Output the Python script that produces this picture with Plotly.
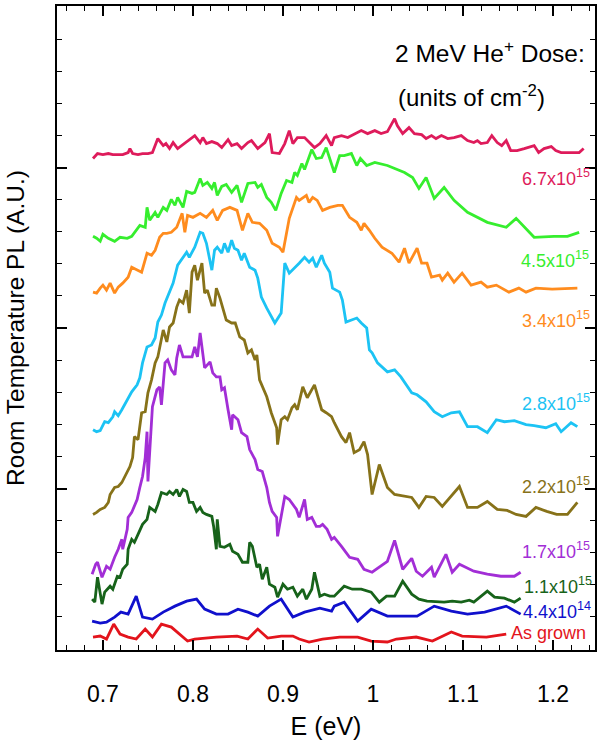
import plotly.graph_objects as go

# ---- data (E in eV, PL intensity in arbitrary units, curves offset vertically) ----
e_67 = [0.689,0.694,0.700,0.706,0.711,0.717,0.722,0.728,0.730,0.733,0.739,0.744,0.750,0.755,0.761,0.767,0.770,0.774,0.778,0.783,0.786,0.791,0.802,0.808,0.811,0.815,0.821,0.827,0.832,0.839,0.843,0.849,0.854,0.861,0.865,0.872,0.880,0.885,0.888,0.896,0.902,0.907,0.911,0.916,0.924,0.935,0.941,0.948,0.954,0.957,0.965,0.972,0.979,0.987,0.994,1.002,1.009,1.016,1.024,1.027,1.033,1.040,1.046,1.054,1.059,1.065,1.070,1.076,1.083,1.090,1.098,1.105,1.112,1.116,1.120,1.127,1.132,1.138,1.143,1.148,1.153,1.160,1.168,1.171,1.179,1.184,1.190,1.198,1.203,1.209,1.215,1.223,1.229,1.234]
i_67 = [492,497,496,497,496,496,496,498,502,497,496,497,497,498,512,505,507,502,508,502,504,508,515,508,513,507,509,507,503,511,505,507,502,508,510,502,508,517,498,497,507,520,507,513,513,503,507,515,505,513,515,513,516,520,517,520,517,519,532,525,517,523,517,516,512,515,512,515,512,513,515,510,508,510,507,508,515,508,505,510,500,500,502,503,505,498,502,504,500,498,498,498,498,502]

e_45 = [0.689,0.693,0.697,0.700,0.706,0.710,0.713,0.719,0.727,0.732,0.737,0.741,0.747,0.749,0.752,0.758,0.761,0.767,0.771,0.776,0.780,0.783,0.789,0.793,0.799,0.802,0.808,0.811,0.816,0.821,0.824,0.827,0.832,0.837,0.843,0.849,0.854,0.861,0.869,0.872,0.876,0.882,0.887,0.892,0.898,0.904,0.910,0.913,0.916,0.921,0.924,0.932,0.937,0.943,0.948,0.954,0.957,0.963,0.968,0.976,0.982,0.986,0.993,1.002,1.016,1.035,1.044,1.051,1.059,1.068,1.079,1.090,1.105,1.127,1.148,1.159,1.179,1.201,1.216,1.229]
i_45 = [414,412,409,416,412,410,409,413,412,414,420,425,423,443,430,438,433,443,440,451,445,453,443,459,457,458,472,465,468,462,468,455,464,466,458,465,448,467,468,463,466,453,448,440,457,470,468,478,475,487,481,501,492,493,503,485,478,495,495,497,485,492,485,488,485,478,473,462,473,452,463,450,438,428,423,432,413,414,414,418]

e_34 = [0.689,0.693,0.697,0.700,0.704,0.708,0.713,0.717,0.722,0.728,0.732,0.738,0.743,0.749,0.754,0.758,0.763,0.767,0.771,0.776,0.782,0.788,0.791,0.794,0.800,0.808,0.815,0.822,0.827,0.833,0.841,0.849,0.855,0.861,0.866,0.874,0.882,0.888,0.896,0.900,0.907,0.915,0.918,0.926,0.929,0.933,0.938,0.944,0.952,0.961,0.966,0.974,0.982,0.987,0.990,0.996,1.002,1.010,1.021,1.029,1.035,1.040,1.049,1.054,1.060,1.065,1.074,1.077,1.083,1.090,1.099,1.109,1.120,1.127,1.137,1.151,1.162,1.170,1.181,1.199,1.227]
i_34 = [358,357,362,365,360,367,357,363,367,373,383,380,378,397,395,400,413,417,417,418,423,437,418,435,433,437,433,440,430,440,443,440,420,437,428,427,420,407,403,398,432,453,450,455,448,453,450,440,443,445,445,433,428,420,427,420,412,403,397,388,402,387,402,387,387,373,375,370,377,368,377,365,368,363,365,358,362,358,362,361,362]

e_28 = [0.689,0.693,0.697,0.702,0.706,0.711,0.713,0.717,0.721,0.724,0.728,0.732,0.738,0.741,0.744,0.749,0.754,0.758,0.761,0.765,0.769,0.774,0.778,0.783,0.789,0.793,0.796,0.802,0.808,0.811,0.815,0.821,0.824,0.827,0.832,0.835,0.839,0.843,0.846,0.850,0.854,0.857,0.863,0.869,0.872,0.876,0.882,0.891,0.898,0.902,0.907,0.913,0.918,0.924,0.929,0.933,0.937,0.943,0.946,0.952,0.955,0.963,0.966,0.970,0.976,0.982,0.987,0.993,0.996,0.999,1.005,1.016,1.024,1.031,1.043,1.049,1.059,1.068,1.077,1.087,1.096,1.105,1.116,1.127,1.137,1.146,1.157,1.170,1.179,1.192,1.203,1.209,1.220,1.227]
i_28 = [220,218,219,228,227,233,238,234,240,245,252,258,265,272,287,303,305,312,328,335,347,358,367,385,393,398,393,403,418,417,407,380,400,403,397,407,398,410,402,400,390,397,383,380,372,353,342,327,337,387,377,382,387,393,388,392,383,395,387,378,362,358,350,328,330,332,327,322,300,297,287,278,280,273,257,255,248,238,233,237,238,223,223,217,230,228,229,225,224,222,226,218,227,223]

e_22 = [0.689,0.693,0.697,0.702,0.706,0.708,0.713,0.717,0.721,0.727,0.730,0.733,0.735,0.739,0.743,0.747,0.750,0.754,0.758,0.761,0.767,0.771,0.774,0.778,0.782,0.785,0.789,0.793,0.796,0.799,0.802,0.805,0.810,0.813,0.816,0.821,0.824,0.826,0.830,0.837,0.843,0.847,0.852,0.857,0.861,0.865,0.869,0.871,0.874,0.882,0.887,0.893,0.894,0.898,0.902,0.905,0.910,0.913,0.916,0.922,0.927,0.935,0.943,0.948,0.954,0.957,0.965,0.970,0.974,0.979,0.985,0.990,0.994,0.999,1.007,1.016,1.024,1.043,1.051,1.059,1.068,1.077,1.096,1.105,1.116,1.127,1.138,1.149,1.159,1.170,1.181,1.193,1.204,1.216,1.227]
i_22 = [135,137,140,142,147,155,162,163,167,178,183,192,213,210,237,238,257,270,287,293,320,308,323,327,343,350,347,360,337,378,385,370,387,357,360,345,345,362,352,330,327,327,313,310,297,300,290,295,270,253,237,222,205,230,233,230,242,245,240,263,252,265,240,237,233,227,213,207,217,197,200,208,195,155,185,162,155,152,142,153,152,143,163,142,142,148,140,139,135,133,142,138,135,135,147]

e_17 = [0.688,0.692,0.694,0.699,0.704,0.708,0.713,0.717,0.721,0.722,0.727,0.728,0.732,0.738,0.741,0.744,0.747,0.749,0.750,0.752,0.755,0.760,0.763,0.765,0.769,0.772,0.776,0.780,0.782,0.785,0.789,0.793,0.799,0.802,0.805,0.808,0.811,0.813,0.819,0.822,0.826,0.830,0.832,0.835,0.839,0.843,0.844,0.850,0.854,0.860,0.863,0.869,0.872,0.877,0.882,0.885,0.888,0.893,0.894,0.898,0.902,0.907,0.915,0.918,0.924,0.927,0.932,0.937,0.941,0.944,0.949,0.954,0.957,0.965,0.974,0.983,0.990,0.999,1.007,1.016,1.024,1.033,1.043,1.048,1.055,1.065,1.068,1.081,1.088,1.096,1.112,1.127,1.142,1.157,1.164]
i_17 = [75,85,87,72,83,80,92,100,110,100,120,132,137,150,162,173,192,218,168,197,243,260,263,245,287,290,280,275,292,305,293,293,293,303,293,317,298,282,288,277,273,273,260,262,240,220,235,230,217,213,200,190,180,178,162,147,138,132,113,135,153,150,140,132,150,130,132,123,123,125,120,110,112,103,92,90,80,77,82,88,109,80,91,78,73,82,72,95,77,85,78,75,73,73,77]

e_11 = [0.688,0.691,0.694,0.699,0.702,0.708,0.711,0.716,0.719,0.722,0.727,0.728,0.732,0.735,0.739,0.744,0.749,0.752,0.758,0.761,0.765,0.771,0.774,0.778,0.782,0.785,0.789,0.793,0.796,0.800,0.804,0.808,0.811,0.815,0.821,0.823,0.826,0.827,0.830,0.835,0.841,0.844,0.850,0.855,0.861,0.863,0.866,0.871,0.874,0.877,0.882,0.885,0.891,0.894,0.900,0.905,0.911,0.916,0.922,0.926,0.932,0.935,0.941,0.946,0.952,0.957,0.968,0.977,0.987,0.998,1.007,1.015,1.024,1.033,1.043,1.051,1.060,1.079,1.088,1.098,1.107,1.112,1.127,1.135,1.146,1.157,1.164]
i_11 = [50,47,72,45,57,63,60,73,72,80,85,100,110,107,115,125,130,142,138,145,157,155,158,155,160,153,160,158,147,147,138,142,137,135,133,123,100,130,103,102,105,98,95,87,87,107,103,82,85,70,82,65,62,52,65,60,62,53,60,50,60,77,53,55,53,53,63,60,60,57,47,53,53,68,55,50,48,47,48,47,49,47,58,52,51,47,51]

e_44 = [0.688,0.697,0.704,0.713,0.720,0.728,0.737,0.744,0.755,0.767,0.780,0.793,0.804,0.813,0.826,0.839,0.850,0.861,0.872,0.885,0.898,0.911,0.924,0.941,0.954,0.957,0.968,0.983,0.998,1.016,1.049,1.068,1.087,1.105,1.124,1.148,1.164]
i_44 = [28,26,27,32,37,35,53,32,30,37,43,48,50,40,35,35,40,37,33,43,50,32,37,41,38,43,47,28,40,33,33,43,38,35,37,43,35]

e_ag = [0.689,0.697,0.704,0.712,0.719,0.728,0.737,0.747,0.755,0.765,0.776,0.788,0.794,0.802,0.826,0.849,0.861,0.872,0.883,0.898,0.911,0.918,0.929,0.944,0.963,0.983,0.998,1.016,1.026,1.048,1.066,1.087,1.099,1.126,1.148]
i_ag = [12,13,10,25,15,12,10,20,12,25,22,13,8,10,12,13,10,20,11,13,13,10,7,10,12,12,8,7,10,12,8,17,13,12,15]

series_names = ["6.7x10<sup>15</sup>", "4.5x10<sup>15</sup>", "3.4x10<sup>15</sup>", "2.8x10<sup>15</sup>",
                "2.2x10<sup>15</sup>", "1.7x10<sup>15</sup>", "1.1x10<sup>15</sup>", "4.4x10<sup>14</sup>", "As grown"]
series_x = [e_67, e_45, e_34, e_28, e_22, e_17, e_11, e_44, e_ag]
series_y = [i_67, i_45, i_34, i_28, i_22, i_17, i_11, i_44, i_ag]
colors = ["#DE1B5B", "#36EE2E", "#FF8C1E", "#1CC3F4", "#877219", "#A22ED6", "#17631A", "#1010CC", "#E3141C"]
label_y = [473, 391, 331, 247, 164, 99, 64, 39, 16]
label_x = [1.243, 1.242, 1.243, 1.243, 1.243, 1.243, 1.245, 1.244, 1.239]

FONT = "Arial, Liberation Sans, sans-serif"

fig = go.Figure()
for name, xs, ys, c in zip(series_names, series_x, series_y, colors):
    fig.add_trace(go.Scatter(x=xs, y=ys, mode="lines", name=name,
                             line=dict(color=c, width=2.8), showlegend=False))

for name, lx, ly, c in zip(series_names, label_x, label_y, colors):
    fig.add_annotation(x=lx, y=ly, xref="x", yref="y", text=name, showarrow=False,
                       xanchor="right", yanchor="middle",
                       font=dict(family=FONT, size=18, color=c))

fig.add_annotation(x=1.238, y=599, xref="x", yref="y", text="2 MeV He<sup>+</sup> Dose:",
                   showarrow=False, xanchor="right", yanchor="middle",
                   font=dict(family=FONT, size=24.5, color="black"))
fig.add_annotation(x=1.026, y=555, xref="x", yref="y", text="(units of cm<sup>-2</sup>)",
                   showarrow=False, xanchor="left", yanchor="middle",
                   font=dict(family=FONT, size=24, color="black"))

fig.update_layout(
    width=597, height=740,
    margin=dict(l=57, r=0, t=6, b=89),
    paper_bgcolor="white", plot_bgcolor="white",
    font=dict(family=FONT, color="black"),
    xaxis=dict(range=[0.649, 1.2466], tick0=0.7, dtick=0.1, ticks="inside", ticklen=10,
               tickwidth=1.5, tickcolor="black", showline=True, linecolor="black", linewidth=2,
               mirror="allticks", showgrid=False, zeroline=False,
               tickfont=dict(size=23, family=FONT), ticklabelstandoff=22,
               minor=dict(dtick=0.02, ticks="inside", ticklen=5, tickcolor="black", tickwidth=1.2, showgrid=False),
               title=dict(text="E (eV)", font=dict(size=25, family=FONT), standoff=16)),
    yaxis=dict(range=[-1, 645], tick0=0, dtick=161, ticks="inside", ticklen=10,
               tickwidth=1.5, tickcolor="black", showline=True, linecolor="black", linewidth=2,
               mirror="allticks", showgrid=False, zeroline=False, showticklabels=False,
               minor=dict(dtick=32.2, ticks="inside", ticklen=5, tickcolor="black", tickwidth=1.2, showgrid=False),
               title=dict(text="Room Temperature PL (A.U.)", font=dict(size=24.5, family=FONT), standoff=23)),
)

fig.write_html("out.html", config={"displayModeBar": False},
               post_script="document.body.style.margin='0px';")
